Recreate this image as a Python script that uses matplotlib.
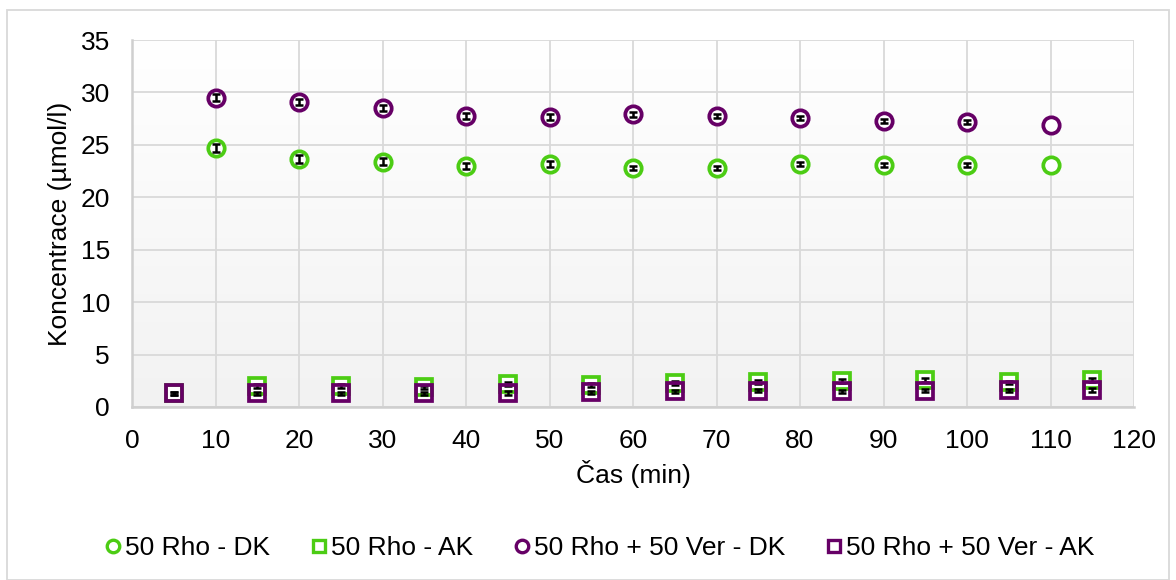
import numpy as np
import matplotlib
matplotlib.use("Agg")
import matplotlib.pyplot as plt
from matplotlib.patches import Rectangle

plt.rcParams['font.family'] = ['Liberation Sans', 'DejaVu Sans']

# ---- data ----
t_dk = [10, 20, 30, 40, 50, 60, 70, 80, 90, 100, 110]
t_ak = [5, 15, 25, 35, 45, 55, 65, 75, 85, 95, 105, 115]

rho_dk = [24.7, 23.65, 23.4, 23.0, 23.2, 22.8, 22.8, 23.2, 23.1, 23.1, 23.1]
rho_dk_err = [0.4, 0.35, 0.3, 0.3, 0.3, 0.2, 0.2, 0.2, 0.2, 0.2, 0.0]

rho_ak = [1.3, 2.0, 2.0, 1.9, 2.2, 2.1, 2.3, 2.4, 2.45, 2.55, 2.35, 2.55]
rho_ak_err = [0.15, 0.15, 0.15, 0.15, 0.2, 0.15, 0.2, 0.2, 0.2, 0.2, 0.15, 0.2]

ver_dk = [29.5, 29.1, 28.5, 27.75, 27.65, 27.9, 27.75, 27.55, 27.3, 27.2, 26.9]
ver_dk_err = [0.35, 0.3, 0.3, 0.3, 0.3, 0.2, 0.2, 0.2, 0.2, 0.2, 0.0]

ver_ak = [1.3, 1.3, 1.3, 1.3, 1.3, 1.4, 1.5, 1.55, 1.5, 1.55, 1.6, 1.6]
ver_ak_err = [0.15, 0.15, 0.15, 0.15, 0.2, 0.15, 0.15, 0.15, 0.15, 0.15, 0.15, 0.2]

labels = ['50 Rho - DK', '50 Rho - AK', '50 Rho + 50 Ver - DK', '50 Rho + 50 Ver - AK']
xticks = list(range(0, 121, 10))
yticks = list(range(0, 36, 5))

GREEN = '#4ccc14'
PURPLE = '#660066'
GRID = '#d9d9d9'
FS = 19

fig = plt.figure(figsize=(11.76, 5.80), dpi=100)
ax = fig.add_axes([132/1176, 1-407/580, (1134-132)/1176, (407-40)/580])

# gradient background
grad = np.linspace(0, 1, 256).reshape(-1, 1)
cmap = matplotlib.colors.LinearSegmentedColormap.from_list('bg', ['#ffffff', '#f2f2f2'])
ax.imshow(grad, extent=[0, 1, 0, 1], transform=ax.transAxes, cmap=cmap,
          aspect='auto', zorder=0, origin='upper')

series = [
    (t_dk, rho_dk, rho_dk_err, 'o', GREEN, labels[0]),
    (t_ak, rho_ak, rho_ak_err, 's', GREEN, labels[1]),
    (t_dk, ver_dk, ver_dk_err, 'o', PURPLE, labels[2]),
    (t_ak, ver_ak, ver_ak_err, 's', PURPLE, labels[3]),
]

MS = 11.8
MEW = 2.7
for i, (x, y, e, m, c, lab) in enumerate(series):
    ax.plot(x, y, linestyle='none', marker=m, markersize=MS, markerfacecolor='white',
            markeredgecolor='white', markeredgewidth=MEW, zorder=2)
for i, (x, y, e, m, c, lab) in enumerate(series):
    ax.plot(x, y, linestyle='none', marker=m, markersize=MS, markerfacecolor='none',
            markeredgecolor=c, markeredgewidth=MEW, zorder=3 + i * 0.1, label=lab)
    xs = [a for a, err in zip(x, e) if err > 0]
    ys = [b for b, err in zip(y, e) if err > 0]
    es = [err for err in e if err > 0]
    ax.errorbar(xs, ys, yerr=es, fmt='none', ecolor='black', elinewidth=1.8,
                capsize=3, capthick=1.8, zorder=3.05 + i * 0.1)

ax.set_xlim(0, 120)
ax.set_ylim(0, 35)
ax.set_xticks(xticks)
ax.set_yticks(yticks)
ax.grid(True, color=GRID, linewidth=1.3, zorder=1)
ax.set_axisbelow(True)
ax.tick_params(length=0, labelsize=FS, pad=16, colors='black')
for s in ['top', 'right']:
    ax.spines[s].set_visible(False)
for s in ['left', 'bottom']:
    ax.spines[s].set_color('#cfcfcf')
    ax.spines[s].set_linewidth(1.8)

ax.set_xlabel('Čas (min)', fontsize=FS, labelpad=5)
ax.set_ylabel('Koncentrace (µmol/l)', fontsize=FS, labelpad=6)

leg_handles = []
for (x, y, e, m, c, lab) in series:
    lh, = plt.plot([], [], linestyle='none', marker=m, markersize=9, markerfacecolor='none',
                   markeredgecolor=c, markeredgewidth=2.4, label=lab)
    leg_handles.append(lh)
fig.legend(handles=leg_handles, labels=labels, loc='center', bbox_to_anchor=(0.51, 1-548/580),
           ncol=4, frameon=False, fontsize=FS, handlelength=0.6, handletextpad=0.15,
           columnspacing=1.55)

fig.patches.append(Rectangle((7/1176, 0), (1169-7)/1176, 1-10/580, transform=fig.transFigure,
                             fill=False, edgecolor=GRID, linewidth=1.3))

fig.savefig('out.png', dpi=100)
